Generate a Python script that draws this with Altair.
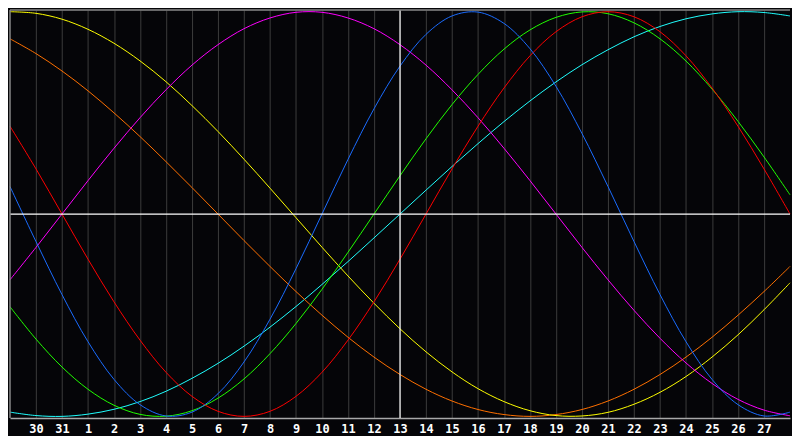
import altair as alt
import pandas as pd

# day index 0..30 across the chart (0 = the 29th of the previous month)
days = list(range(31))
date_labels = ["29", "30", "31", "1", "2", "3", "4", "5", "6", "7", "8", "9", "10", "11", "12",
               "13", "14", "15", "16", "17", "18", "19", "20", "21", "22", "23", "24", "25",
               "26", "27", "28"]
tick_days = list(range(1, 30))
today_day = [15]

blue = [0.136, -0.136, -0.398, -0.631, -0.817, -0.942, -0.998, -0.979, -0.888, -0.731, -0.52, -0.27, 0.0, 0.27, 0.52, 0.731, 0.888, 0.979, 0.998, 0.942, 0.817, 0.631, 0.398, 0.136, -0.136, -0.398, -0.631, -0.817, -0.942, -0.998, -0.979]
red = [0.434, 0.223, -0.0, -0.223, -0.434, -0.623, -0.782, -0.901, -0.975, -1.0, -0.975, -0.901, -0.782, -0.623, -0.434, -0.223, 0.0, 0.223, 0.434, 0.623, 0.782, 0.901, 0.975, 1.0, 0.975, 0.901, 0.782, 0.623, 0.434, 0.223, 0.0]
green = [-0.458, -0.618, -0.756, -0.866, -0.945, -0.99, -0.999, -0.972, -0.91, -0.815, -0.69, -0.541, -0.372, -0.189, 0.0, 0.189, 0.372, 0.541, 0.69, 0.815, 0.91, 0.972, 0.999, 0.99, 0.945, 0.866, 0.756, 0.618, 0.458, 0.282, 0.095]
magenta = [-0.325, -0.165, 0.0, 0.165, 0.325, 0.476, 0.614, 0.736, 0.837, 0.916, 0.969, 0.997, 0.997, 0.969, 0.916, 0.837, 0.736, 0.614, 0.476, 0.325, 0.165, 0.0, -0.165, -0.325, -0.476, -0.614, -0.736, -0.837, -0.916, -0.969, -0.997]
yellow = [1.0, 0.992, 0.963, 0.913, 0.844, 0.757, 0.654, 0.536, 0.408, 0.271, 0.128, -0.018, -0.164, -0.306, -0.441, -0.567, -0.681, -0.78, -0.863, -0.927, -0.972, -0.996, -0.998, -0.98, -0.94, -0.881, -0.803, -0.707, -0.597, -0.473, -0.34]
orange = [0.866, 0.793, 0.707, 0.609, 0.5, 0.383, 0.259, 0.131, 0.0, -0.131, -0.259, -0.383, -0.5, -0.609, -0.707, -0.793, -0.866, -0.924, -0.966, -0.991, -1.0, -0.991, -0.966, -0.924, -0.866, -0.793, -0.707, -0.609, -0.5, -0.383, -0.259]
cyan = [-0.979, -0.996, -1.0, -0.989, -0.965, -0.927, -0.876, -0.812, -0.738, -0.653, -0.559, -0.457, -0.348, -0.235, -0.118, 0.0, 0.118, 0.235, 0.348, 0.457, 0.559, 0.653, 0.738, 0.812, 0.876, 0.927, 0.965, 0.989, 1.0, 0.996, 0.979]

series_names = ["cyan", "orange", "yellow", "magenta", "green", "red", "blue"]
series_values = [cyan, orange, yellow, magenta, green, red, blue]
series_colors = ["#20ffff", "#ff7000", "#ffff00", "#ff00ff", "#20ff00", "#ff0000", "#1a6cff"]

rows = []
for order, (name, vals) in enumerate(zip(series_names, series_values)):
    for d, v in zip(days, vals):
        rows.append({"series": name, "order": order, "day": d, "value": v})
df = pd.DataFrame(rows)

W, H = 784, 410
label_expr = "[" + ",".join("'%s'" % s for s in date_labels) + "][datum.value]"

x_scale = alt.Scale(domain=[0, 30], nice=False, zero=False)
y_scale = alt.Scale(domain=[-1.008, 1.008], nice=False, zero=False)

x_axis = alt.Axis(values=tick_days, labelExpr=label_expr, title=None, grid=True,
                  gridColor="#3c3c3c", gridWidth=1, ticks=False, domainColor="#a8a8a8",
                  domainWidth=1.5, labelColor="white", labelFont="DejaVu Sans Mono",
                  labelFontWeight="bold", labelFontSize=12, labelPadding=6,
                  labelFlush=False, labelOverlap=False)

lines = alt.Chart(df).mark_line(strokeWidth=1, interpolate="catmull-rom").encode(
    x=alt.X("day:Q", scale=x_scale, axis=x_axis),
    y=alt.Y("value:Q", scale=y_scale, axis=None),
    color=alt.Color("series:N", scale=alt.Scale(domain=series_names, range=series_colors), legend=None),
    order=alt.Order("order:Q"),
)

frame_df = pd.DataFrame({"a": [0]})
top_rule = alt.Chart(frame_df).mark_rule(color="#8a8a8a", strokeWidth=1.5).encode(
    x=alt.value(0), x2=alt.value(W), y=alt.value(0))
left_rule = alt.Chart(frame_df).mark_rule(color="#8a8a8a", strokeWidth=1.5).encode(
    x=alt.value(0), y=alt.value(0), y2=alt.value(H))

hline = alt.Chart(pd.DataFrame({"v": [0.0]})).mark_rule(color="white", strokeWidth=1.2).encode(
    y=alt.Y("v:Q", scale=y_scale, axis=None))
vline = alt.Chart(pd.DataFrame({"d": today_day})).mark_rule(color="white", strokeWidth=1.2).encode(
    x=alt.X("d:Q", scale=x_scale, axis=x_axis))

chart = alt.layer(lines, hline, vline, top_rule, left_rule).properties(
    width=W, height=H, padding={"left": 0, "top": 0, "right": 0, "bottom": 0},
).configure(background="#050508").configure_view(stroke=None, fill="#050508")

chart.save("out.html", embed_options={"renderer": "svg", "actions": False})
